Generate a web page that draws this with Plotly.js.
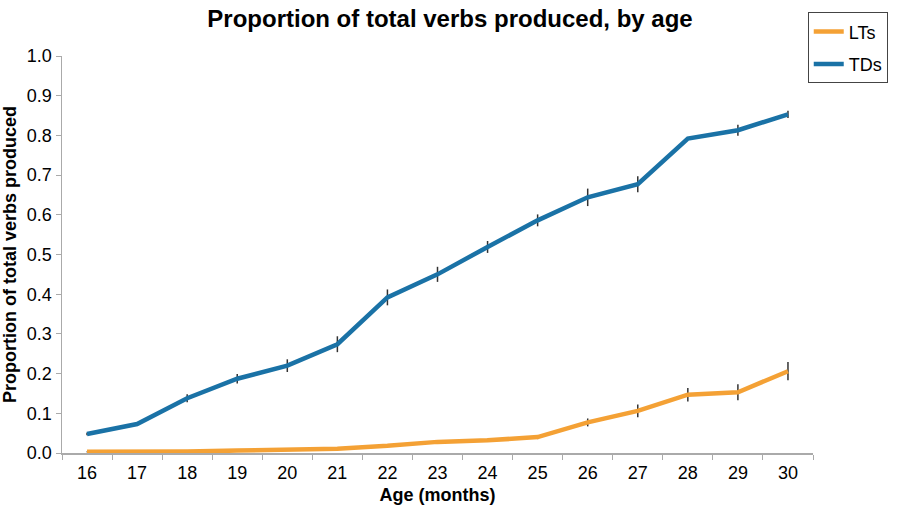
<!DOCTYPE html>
<html>
<head>
<meta charset="utf-8">
<script src="https://cdn.plot.ly/plotly-3.0.1.min.js"></script>
<style>html,body{margin:0;padding:0;background:#fff;}#chart{width:900px;height:512px;}</style>
</head>
<body>
<div id="chart"></div>
<script>
const ages = ["16","17","18","19","20","21","22","23","24","25","26","27","28","29","30"];
const ltsValues = [0.003,0.003,0.004,0.006,0.008,0.011,0.018,0.028,0.032,0.040,0.077,0.106,0.147,0.153,0.206];
const ltsErrors = [0.001,0.001,0.001,0.002,0.002,0.002,0.003,0.003,0.004,0.005,0.010,0.016,0.017,0.020,0.023];
const tdsValues = [0.048,0.073,0.138,0.187,0.220,0.274,0.392,0.450,0.519,0.586,0.644,0.677,0.792,0.813,0.853];
const tdsErrors = [0.003,0.005,0.010,0.012,0.016,0.020,0.020,0.019,0.015,0.015,0.022,0.020,0.003,0.014,0.009];
const yTicks = [0,0.1,0.2,0.3,0.4,0.5,0.6,0.7,0.8,0.9,1.0];

const font = "Liberation Sans, Arial, sans-serif";
const errStyle = {type:"data", visible:true, thickness:1.5, width:0, color:"#333333"};

const traces = [
  {x: ages, y: ltsValues, name: "LTs", type: "scatter", mode: "lines", legendgroup: "a",
   line: {color: "#F4A135", width: 4.5},
   error_y: Object.assign({array: ltsErrors}, errStyle)},
  {x: ages, y: tdsValues, name: "TDs", type: "scatter", mode: "lines", legendgroup: "b",
   line: {color: "#1A72A6", width: 4.5},
   error_y: Object.assign({array: tdsErrors}, errStyle)}
];

const layout = {
  width: 900, height: 512,
  margin: {l: 62, r: 78, t: 46, b: 59},
  paper_bgcolor: "#fff", plot_bgcolor: "#fff",
  font: {family: font, color: "#000"},
  title: {text: "<b>Proportion of total verbs produced, by age</b>", font: {size: 24, family: font, color: "#000"},
          x: 0.5, xanchor: "center", y: 0.963, yanchor: "middle"},
  xaxis: {type: "category", range: [-0.5, 14.5], tickson: "boundaries", ticks: "outside", ticklen: 5,
          tickcolor: "#aaaaaa", showline: true, linecolor: "#aaaaaa", linewidth: 1.5, showgrid: false,
          zeroline: false, tickfont: {size: 18, family: font}, ticklabelstandoff: 3,
          title: {text: "<b>Age (months)</b>", font: {size: 18, family: font}, standoff: 6}},
  yaxis: {range: [0, 1.0], tickvals: yTicks, tickformat: ".1f", ticks: "outside", ticklen: 5,
          tickcolor: "#aaaaaa", showline: true, linecolor: "#aaaaaa", linewidth: 1.5, showgrid: false,
          zeroline: false, tickfont: {size: 18, family: font},
          title: {text: "<b>Proportion of total verbs produced</b>", font: {size: 18, family: font}, standoff: 6}},
  legend: {x: 0.993, xanchor: "left", y: 1.11, yanchor: "top", bordercolor: "#444", borderwidth: 1,
           bgcolor: "#fff", font: {size: 18, family: font}, itemwidth: 30, tracegroupgap: 6},
  showlegend: true
};

Plotly.newPlot("chart", traces, layout, {displayModeBar: false, staticPlot: true});
</script>
</body>
</html>
